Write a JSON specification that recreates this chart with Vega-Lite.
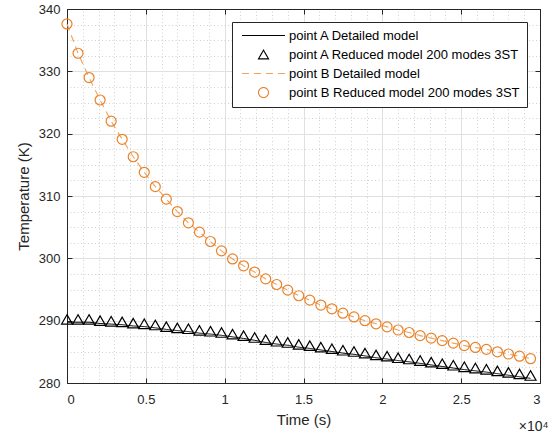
{
  "$schema": "https://vega.github.io/schema/vega-lite/v6.json",
  "width": 473,
  "height": 374,
  "autosize": {"type": "none"},
  "padding": {"left": 67, "top": 9, "right": 8, "bottom": 52},
  "background": "white",
  "config": {
    "view": {"stroke": null},
    "font": "Liberation Sans",
    "axis": {"labelFont": "Liberation Sans", "titleFont": "Liberation Sans", "labelColor": "#262626", "titleColor": "#262626", "titleFontWeight": "normal", "domainColor": "#262626", "tickColor": "#262626", "domainWidth": 1, "tickWidth": 1},
    "legend": {"orient": "top-right", "offset": 13, "title": null, "fillColor": "white", "strokeColor": "#262626", "padding": 7, "labelFont": "Liberation Sans", "labelFontSize": 13, "labelColor": "#000000", "labelOffset": 37, "symbolOffset": 0, "symbolSize": 100, "symbolStrokeWidth": 1.1, "symbolFillColor": "transparent", "rowPadding": 5, "clipHeight": 13, "labelLimit": 400}
  },
  "data": {
    "values": [
      {"t": 0, "point A Detailed model": 289.75, "point A Reduced model 200 modes 3ST": 290.2, "point B Detailed model": 337.6, "point B Reduced model 200 modes 3ST": 337.6},
      {"t": 700, "point A Detailed model": 289.75, "point A Reduced model 200 modes 3ST": 290.2, "point B Detailed model": 332.9, "point B Reduced model 200 modes 3ST": 332.9},
      {"t": 1400, "point A Detailed model": 289.75, "point A Reduced model 200 modes 3ST": 290.2, "point B Detailed model": 329.0, "point B Reduced model 200 modes 3ST": 329.0},
      {"t": 2100, "point A Detailed model": 289.55, "point A Reduced model 200 modes 3ST": 290.0, "point B Detailed model": 325.4, "point B Reduced model 200 modes 3ST": 325.4},
      {"t": 2800, "point A Detailed model": 289.45, "point A Reduced model 200 modes 3ST": 289.9, "point B Detailed model": 322.0, "point B Reduced model 200 modes 3ST": 322.0},
      {"t": 3500, "point A Detailed model": 289.35, "point A Reduced model 200 modes 3ST": 289.8, "point B Detailed model": 319.1, "point B Reduced model 200 modes 3ST": 319.1},
      {"t": 4200, "point A Detailed model": 289.15, "point A Reduced model 200 modes 3ST": 289.6, "point B Detailed model": 316.3, "point B Reduced model 200 modes 3ST": 316.3},
      {"t": 4900, "point A Detailed model": 289.05, "point A Reduced model 200 modes 3ST": 289.5, "point B Detailed model": 313.8, "point B Reduced model 200 modes 3ST": 313.8},
      {"t": 5600, "point A Detailed model": 288.85, "point A Reduced model 200 modes 3ST": 289.3, "point B Detailed model": 311.5, "point B Reduced model 200 modes 3ST": 311.5},
      {"t": 6300, "point A Detailed model": 288.6, "point A Reduced model 200 modes 3ST": 289.05, "point B Detailed model": 309.5, "point B Reduced model 200 modes 3ST": 309.5},
      {"t": 7000, "point A Detailed model": 288.4, "point A Reduced model 200 modes 3ST": 288.85, "point B Detailed model": 307.5, "point B Reduced model 200 modes 3ST": 307.5},
      {"t": 7700, "point A Detailed model": 288.25, "point A Reduced model 200 modes 3ST": 288.7, "point B Detailed model": 305.7, "point B Reduced model 200 modes 3ST": 305.7},
      {"t": 8400, "point A Detailed model": 288.0, "point A Reduced model 200 modes 3ST": 288.45, "point B Detailed model": 304.2, "point B Reduced model 200 modes 3ST": 304.2},
      {"t": 9100, "point A Detailed model": 287.85, "point A Reduced model 200 modes 3ST": 288.3, "point B Detailed model": 302.7, "point B Reduced model 200 modes 3ST": 302.7},
      {"t": 9800, "point A Detailed model": 287.65, "point A Reduced model 200 modes 3ST": 288.1, "point B Detailed model": 301.2, "point B Reduced model 200 modes 3ST": 301.2},
      {"t": 10500, "point A Detailed model": 287.4, "point A Reduced model 200 modes 3ST": 287.85, "point B Detailed model": 299.9, "point B Reduced model 200 modes 3ST": 299.9},
      {"t": 11200, "point A Detailed model": 287.15, "point A Reduced model 200 modes 3ST": 287.6, "point B Detailed model": 298.8, "point B Reduced model 200 modes 3ST": 298.8},
      {"t": 11900, "point A Detailed model": 286.85, "point A Reduced model 200 modes 3ST": 287.3, "point B Detailed model": 297.8, "point B Reduced model 200 modes 3ST": 297.8},
      {"t": 12600, "point A Detailed model": 286.5, "point A Reduced model 200 modes 3ST": 286.95, "point B Detailed model": 296.7, "point B Reduced model 200 modes 3ST": 296.7},
      {"t": 13300, "point A Detailed model": 286.25, "point A Reduced model 200 modes 3ST": 286.7, "point B Detailed model": 295.8, "point B Reduced model 200 modes 3ST": 295.8},
      {"t": 14000, "point A Detailed model": 286.05, "point A Reduced model 200 modes 3ST": 286.5, "point B Detailed model": 294.9, "point B Reduced model 200 modes 3ST": 294.9},
      {"t": 14700, "point A Detailed model": 285.75, "point A Reduced model 200 modes 3ST": 286.2, "point B Detailed model": 294.0, "point B Reduced model 200 modes 3ST": 294.0},
      {"t": 15400, "point A Detailed model": 285.55, "point A Reduced model 200 modes 3ST": 286.0, "point B Detailed model": 293.3, "point B Reduced model 200 modes 3ST": 293.3},
      {"t": 16100, "point A Detailed model": 285.3, "point A Reduced model 200 modes 3ST": 285.75, "point B Detailed model": 292.5, "point B Reduced model 200 modes 3ST": 292.5},
      {"t": 16800, "point A Detailed model": 285.05, "point A Reduced model 200 modes 3ST": 285.5, "point B Detailed model": 291.9, "point B Reduced model 200 modes 3ST": 291.9},
      {"t": 17500, "point A Detailed model": 284.8, "point A Reduced model 200 modes 3ST": 285.25, "point B Detailed model": 291.2, "point B Reduced model 200 modes 3ST": 291.2},
      {"t": 18200, "point A Detailed model": 284.6, "point A Reduced model 200 modes 3ST": 285.05, "point B Detailed model": 290.6, "point B Reduced model 200 modes 3ST": 290.6},
      {"t": 18900, "point A Detailed model": 284.35, "point A Reduced model 200 modes 3ST": 284.8, "point B Detailed model": 290.0, "point B Reduced model 200 modes 3ST": 290.0},
      {"t": 19600, "point A Detailed model": 284.05, "point A Reduced model 200 modes 3ST": 284.5, "point B Detailed model": 289.5, "point B Reduced model 200 modes 3ST": 289.5},
      {"t": 20300, "point A Detailed model": 283.85, "point A Reduced model 200 modes 3ST": 284.3, "point B Detailed model": 289.0, "point B Reduced model 200 modes 3ST": 289.0},
      {"t": 21000, "point A Detailed model": 283.6, "point A Reduced model 200 modes 3ST": 284.05, "point B Detailed model": 288.5, "point B Reduced model 200 modes 3ST": 288.5},
      {"t": 21700, "point A Detailed model": 283.4, "point A Reduced model 200 modes 3ST": 283.85, "point B Detailed model": 288.1, "point B Reduced model 200 modes 3ST": 288.1},
      {"t": 22400, "point A Detailed model": 283.15, "point A Reduced model 200 modes 3ST": 283.6, "point B Detailed model": 287.6, "point B Reduced model 200 modes 3ST": 287.6},
      {"t": 23100, "point A Detailed model": 282.9, "point A Reduced model 200 modes 3ST": 283.35, "point B Detailed model": 287.2, "point B Reduced model 200 modes 3ST": 287.2},
      {"t": 23800, "point A Detailed model": 282.65, "point A Reduced model 200 modes 3ST": 283.1, "point B Detailed model": 286.8, "point B Reduced model 200 modes 3ST": 286.8},
      {"t": 24500, "point A Detailed model": 282.4, "point A Reduced model 200 modes 3ST": 282.85, "point B Detailed model": 286.4, "point B Reduced model 200 modes 3ST": 286.4},
      {"t": 25200, "point A Detailed model": 282.15, "point A Reduced model 200 modes 3ST": 282.6, "point B Detailed model": 286.0, "point B Reduced model 200 modes 3ST": 286.0},
      {"t": 25900, "point A Detailed model": 281.95, "point A Reduced model 200 modes 3ST": 282.4, "point B Detailed model": 285.7, "point B Reduced model 200 modes 3ST": 285.7},
      {"t": 26600, "point A Detailed model": 281.75, "point A Reduced model 200 modes 3ST": 282.2, "point B Detailed model": 285.4, "point B Reduced model 200 modes 3ST": 285.4},
      {"t": 27300, "point A Detailed model": 281.5, "point A Reduced model 200 modes 3ST": 281.95, "point B Detailed model": 285.0, "point B Reduced model 200 modes 3ST": 285.0},
      {"t": 28000, "point A Detailed model": 281.25, "point A Reduced model 200 modes 3ST": 281.7, "point B Detailed model": 284.65, "point B Reduced model 200 modes 3ST": 284.65},
      {"t": 28700, "point A Detailed model": 281.0, "point A Reduced model 200 modes 3ST": 281.45, "point B Detailed model": 284.3, "point B Reduced model 200 modes 3ST": 284.3},
      {"t": 29400, "point A Detailed model": 280.75, "point A Reduced model 200 modes 3ST": 281.2, "point B Detailed model": 283.9, "point B Reduced model 200 modes 3ST": 283.9}
    ]
  },
  "layer": [
    {
      "transform": [{"fold": ["point B Detailed model"], "as": ["s", "T"]}],
      "mark": {"type": "line", "strokeWidth": 1.1},
      "encoding": {
        "x": {"field": "t", "type": "quantitative", "scale": {"domain": [0, 30000], "nice": false},
          "axis": {"orient": "top", "values": [0,1000,2000,3000,4000,5000,6000,7000,8000,9000,10000,11000,12000,13000,14000,15000,16000,17000,18000,19000,20000,21000,22000,23000,24000,25000,26000,27000,28000,29000,30000], "grid": true, "gridDash": [1, 2.5], "gridColor": "#c4c4c4", "gridWidth": 0.8, "labels": false, "ticks": false, "domain": false, "title": "×10⁴", "titleX": 481, "titleY": 421, "titleAlign": "right", "titleBaseline": "alphabetic", "titleFontSize": 14}},
        "y": {"field": "T", "type": "quantitative", "scale": {"domain": [280, 340], "nice": false, "zero": false},
          "axis": {"orient": "right", "values": [280,282.5,285,287.5,290,292.5,295,297.5,300,302.5,305,307.5,310,312.5,315,317.5,320,322.5,325,327.5,330,332.5,335,337.5,340], "grid": true, "gridDash": [1, 2.5], "gridColor": "#c4c4c4", "gridWidth": 0.8, "labels": false, "ticks": false, "domain": false, "title": null}},
        "color": {"field": "s", "type": "nominal",
          "scale": {"domain": ["point A Detailed model", "point A Reduced model 200 modes 3ST", "point B Detailed model", "point B Reduced model 200 modes 3ST"], "range": ["#000000", "#000000", "#f0a35e", "#e9832a"]}},
        "strokeDash": {"field": "s", "type": "nominal",
          "scale": {"domain": ["point A Detailed model", "point A Reduced model 200 modes 3ST", "point B Detailed model", "point B Reduced model 200 modes 3ST"], "range": [[1, 0], [1, 0], [7, 5], [1, 0]]}}
      }
    },
    {
      "transform": [{"fold": ["point A Detailed model"], "as": ["s", "T"]}],
      "mark": {"type": "line", "strokeWidth": 1},
      "encoding": {
        "x": {"field": "t", "type": "quantitative", "scale": {"domain": [0, 30000], "nice": false},
          "axis": {"orient": "bottom", "values": [0, 5000, 10000, 15000, 20000, 25000, 30000], "labelExpr": "'' + datum.value / 10000", "grid": true, "gridColor": "#e0e0e0", "gridWidth": 1, "tickSize": -5, "labelPadding": 15, "labelFontSize": 13, "title": "Time (s)", "titleFontSize": 15, "titlePadding": 6}},
        "y": {"field": "T", "type": "quantitative", "scale": {"domain": [280, 340], "nice": false, "zero": false},
          "axis": {"orient": "left", "values": [280, 290, 300, 310, 320, 330, 340], "grid": true, "gridColor": "#e0e0e0", "gridWidth": 1, "tickSize": -5, "labelPadding": 12, "labelFontSize": 13, "title": "Temperature (K)", "titleFontSize": 15, "titlePadding": 7}},
        "color": {"field": "s", "type": "nominal",
          "scale": {"domain": ["point A Detailed model", "point A Reduced model 200 modes 3ST", "point B Detailed model", "point B Reduced model 200 modes 3ST"], "range": ["#000000", "#000000", "#f0a35e", "#e9832a"]}},
        "strokeDash": {"field": "s", "type": "nominal",
          "scale": {"domain": ["point A Detailed model", "point A Reduced model 200 modes 3ST", "point B Detailed model", "point B Reduced model 200 modes 3ST"], "range": [[1, 0], [1, 0], [7, 5], [1, 0]]}}
      }
    },
    {
      "transform": [{"fold": ["point A Reduced model 200 modes 3ST"], "as": ["s", "T"]}],
      "mark": {"type": "point", "shape": "triangle-up", "filled": false, "size": 120, "strokeWidth": 1.2, "opacity": 1},
      "encoding": {
        "x": {"field": "t", "type": "quantitative", "scale": {"domain": [0, 30000], "nice": false},
          "axis": {"orient": "top", "values": [0, 5000, 10000, 15000, 20000, 25000, 30000], "labels": false, "grid": false, "tickSize": -5, "title": null}},
        "y": {"field": "T", "type": "quantitative", "scale": {"domain": [280, 340], "nice": false, "zero": false},
          "axis": {"orient": "right", "values": [280, 290, 300, 310, 320, 330, 340], "labels": false, "grid": false, "tickSize": -5, "title": null}},
        "color": {"field": "s", "type": "nominal",
          "scale": {"domain": ["point A Detailed model", "point A Reduced model 200 modes 3ST", "point B Detailed model", "point B Reduced model 200 modes 3ST"], "range": ["#000000", "#000000", "#f0a35e", "#e9832a"]}}
      }
    },
    {
      "transform": [{"fold": ["point B Reduced model 200 modes 3ST"], "as": ["s", "T"]}],
      "mark": {"type": "point", "shape": "circle", "filled": false, "size": 100, "strokeWidth": 1.2, "opacity": 1},
      "encoding": {
        "x": {"field": "t", "type": "quantitative", "scale": {"domain": [0, 30000], "nice": false}, "axis": null},
        "y": {"field": "T", "type": "quantitative", "scale": {"domain": [280, 340], "nice": false, "zero": false}, "axis": null},
        "color": {"field": "s", "type": "nominal",
          "scale": {"domain": ["point A Detailed model", "point A Reduced model 200 modes 3ST", "point B Detailed model", "point B Reduced model 200 modes 3ST"], "range": ["#000000", "#000000", "#f0a35e", "#e9832a"]}}
      }
    },
    {
      "transform": [{"fold": ["point A Reduced model 200 modes 3ST", "point B Reduced model 200 modes 3ST"], "as": ["s", "T"]}, {"filter": "datum.t < 0"}],
      "mark": {"type": "point", "filled": false, "size": 100, "strokeWidth": 1.1},
      "encoding": {
        "x": {"field": "t", "type": "quantitative", "scale": {"domain": [0, 30000], "nice": false}, "axis": null},
        "y": {"field": "T", "type": "quantitative", "scale": {"domain": [280, 340], "nice": false, "zero": false}, "axis": null},
        "color": {"field": "s", "type": "nominal",
          "scale": {"domain": ["point A Detailed model", "point A Reduced model 200 modes 3ST", "point B Detailed model", "point B Reduced model 200 modes 3ST"], "range": ["#000000", "#000000", "#f0a35e", "#e9832a"]}},
        "shape": {"field": "s", "type": "nominal",
          "scale": {"domain": ["point A Detailed model", "point A Reduced model 200 modes 3ST", "point B Detailed model", "point B Reduced model 200 modes 3ST"], "range": ["M-0.7,0L7.9,0", "M3.6,-0.866L2.6,0.866L4.6,0.866Z", "M-0.7,0L7.9,0", "M4.6,0A1,1,0,1,1,2.6,0A1,1,0,1,1,4.6,0Z"]}}
      }
    }
  ],
  "resolve": {"axis": {"x": "independent", "y": "independent"}}
}
